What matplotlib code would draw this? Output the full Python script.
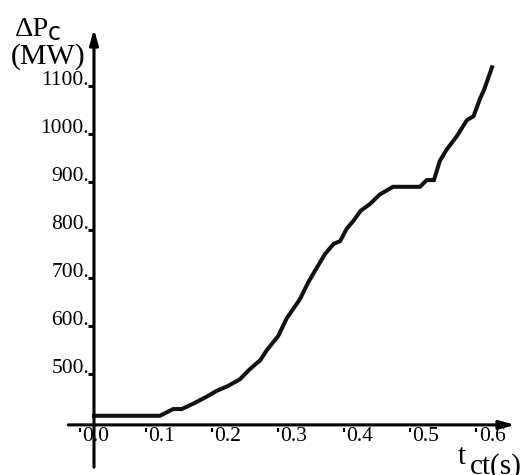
import numpy as np
import matplotlib.pyplot as plt
import matplotlib.transforms as mtransforms

plt.rcParams['font.family'] = ['Liberation Serif', 'DejaVu Serif']

# clearing time (s) vs. power change (MW)
t_ct = [0.0, 0.100, 0.120, 0.133, 0.153, 0.171, 0.186, 0.203, 0.221, 0.236,
        0.252, 0.262, 0.279, 0.292, 0.312, 0.325, 0.337, 0.350, 0.363, 0.373,
        0.383, 0.393, 0.404, 0.418, 0.433, 0.453, 0.494, 0.504, 0.515, 0.524,
        0.534, 0.550, 0.565, 0.575, 0.585, 0.591, 0.603]
dP = [413, 413, 427, 427, 440, 453, 465, 475, 489, 510,
      529, 550, 579, 616, 656, 692, 720, 750, 771, 777,
      803, 819, 840, 854, 874, 890, 890, 904, 904, 944,
      967, 996, 1029, 1037, 1074, 1092, 1139]

xticks = [0.0, 0.1, 0.2, 0.3, 0.4, 0.5, 0.6]
xticklabels = ['0.0', '0.1', '0.2', '0.3', '0.4', '0.5', '0.6']
yticks = [500, 600, 700, 800, 900, 1000, 1100]
yticklabels = ['500.', '600.', '700.', '800.', '900.', '1000.', '1100.']

x_axis_y = 394
fig = plt.figure(figsize=(5.24, 4.75), dpi=100)
ax = fig.add_axes([0, 0, 1, 1])
ax.set_xlim(-0.1424, 0.6515)
ax.set_ylim(289.6, 1279.2)
ax.axis('off')

# axes with arrow heads
arrow = dict(arrowstyle='-|>,head_length=0.9,head_width=0.25', color='black',
             lw=2.2, shrinkA=0, shrinkB=0)
ax.annotate('', xy=(0.638, x_axis_y), xytext=(-0.039, x_axis_y), arrowprops=arrow)
ax.annotate('', xy=(0, 1219), xytext=(0, 306), arrowprops=arrow)

# curve
ax.plot(t_ct, dP, color='#111111', lw=2.9, solid_joinstyle='miter')

# tick marks (drawn a bit off, like the original)
off_x = mtransforms.offset_copy(ax.transData, fig=fig, x=-14, y=-5, units='dots')
ax.plot(xticks, [x_axis_y] * len(xticks), ls='none', marker='|', ms=3,
        mew=1.5, color='black', transform=off_x)
off_y = mtransforms.offset_copy(ax.transData, fig=fig, x=-3, y=0, units='dots')
ax.plot([0] * len(yticks), yticks, ls='none', marker='_', ms=4,
        mew=2, color='black', transform=off_y)

for xv, lab in zip(xticks, xticklabels):
    ax.annotate(lab, (xv, x_axis_y), xytext=(2, -2), textcoords='offset pixels',
                ha='center', va='top', fontsize=15.5)
for yv, lab in zip(yticks, yticklabels):
    ax.annotate(lab, (0, yv), xytext=(-5, 1), textcoords='offset pixels',
                ha='right', va='baseline', fontsize=15.5)

# axis titles
fig.text(15 / 524, 1 - 36 / 475, '\u0394P', fontsize=20.5, va='baseline')
fig.text(48 / 524, 1 - 40 / 475, 'c', fontsize=17, va='baseline',
         family=['DejaVu Sans'])
fig.text(11 / 524, 1 - 64 / 475, '(MW)', fontsize=21.5, va='baseline')
fig.text(458 / 524, 1 - 464 / 475, 't', fontsize=21, va='baseline')
fig.text(470 / 524, 1 - 474 / 475, 'ct(s)', fontsize=21, va='baseline')

fig.savefig('out.png', dpi=100)
